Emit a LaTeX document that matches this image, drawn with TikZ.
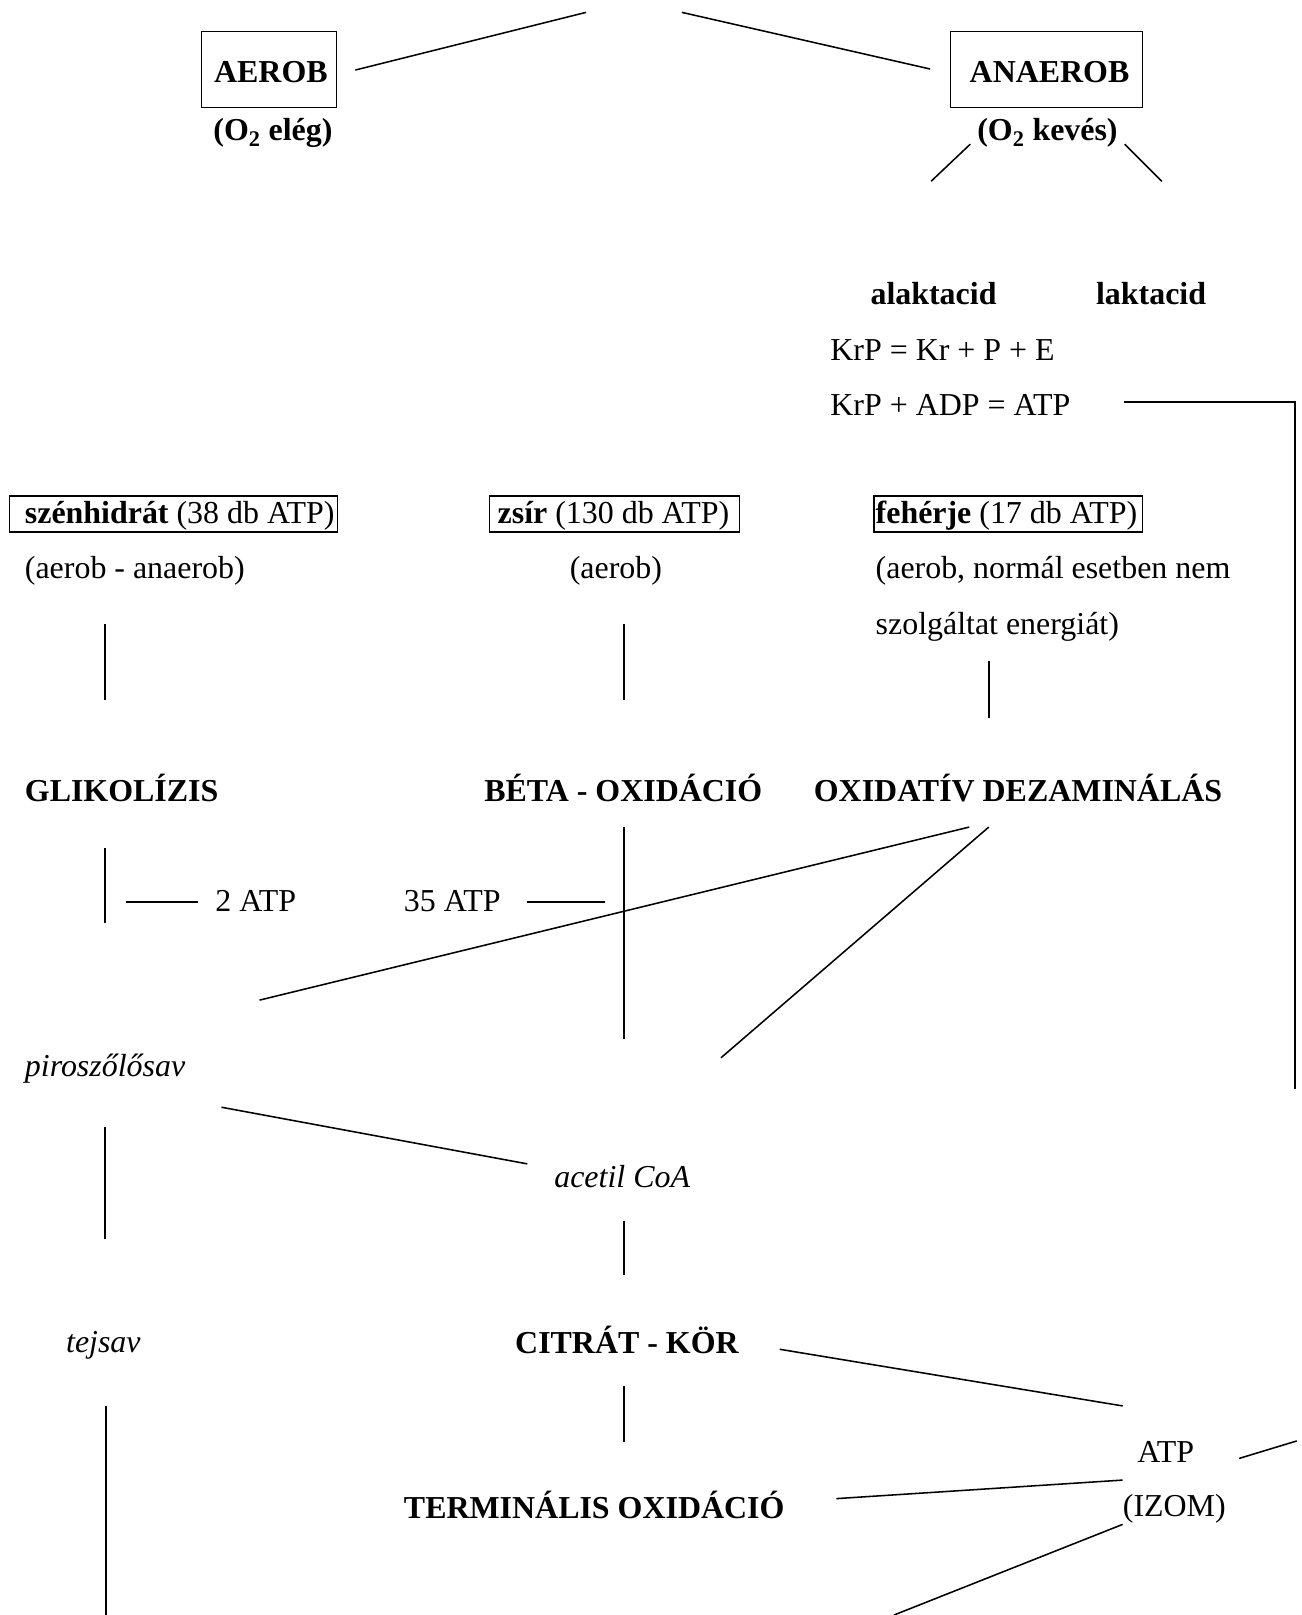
\documentclass[tikz,border=0pt]{standalone}
\usepackage{fontspec}
\setmainfont{Liberation Serif}
\newcommand\bodysize{\fontsize{31pt}{37pt}\selectfont}
\begin{document}
\begin{tikzpicture}[x=1pt,y=-1pt,
  txt/.style={inner sep=0pt, anchor=base west, yshift=-2pt, font=\bodysize},
  ctxt/.style={inner sep=0pt, anchor=base, yshift=-2pt, font=\bodysize},
  bf/.style={font=\bodysize\bfseries},
  it/.style={font=\bodysize\itshape},
  frame/.style={draw, line width=1.1pt, inner sep=0pt, anchor=north west},
  link/.style={line width=1.5pt},
  heavy/.style={line width=2.3pt}]
\useasboundingbox (0,0) rectangle (1264,1568);

% --- top level: aerob / anaerob ---
\node[frame, minimum width=131, minimum height=74] (aerobbox) at (195,30) {};
\node[ctxt, bf] (aerob) at (263,78) {AEROB};
\node[ctxt, bf] (aerobsub) at (265,134) {(O\textsubscript{2} elég)};
\node[frame, minimum width=187, minimum height=74] (anaerobbox) at (922,30) {};
\node[ctxt, bf] (anaerob) at (1019,78) {ANAEROB};
\node[ctxt, bf] (anaerobsub) at (1017,134) {(O\textsubscript{2} kevés)};

\coordinate (topL1) at (345,68);  \coordinate (topL2) at (569,12);
\coordinate (topR1) at (662,12);  \coordinate (topR2) at (903,67);
\draw[link] (topL1) -- (topL2);
\draw[link] (topR1) -- (topR2);

\coordinate (anL1) at (942,140);  \coordinate (anL2) at (904,176);
\coordinate (anR1) at (1092,140); \coordinate (anR2) at (1128,176);
\draw[link] (anL1) -- (anL2);
\draw[link] (anR1) -- (anR2);

% --- anaerob branches ---
\node[txt, bf] (alak) at (845,294) {alaktacid};
\node[txt, bf] (lak) at (1064,294) {laktacid};
\node[txt] (krp1) at (806,348) {KrP = Kr + P + E};
\node[txt] (krp2) at (806,401) {KrP + ADP = ATP};

\coordinate (krpA) at (1091,390);
\coordinate (krpB) at (1257,390);
\coordinate (krpC) at (1257,1057);
\draw[heavy] (krpA) -- (krpB) -- (krpC);

% --- nutrients ---
\node[frame, minimum width=318, minimum height=35] (szhbox) at (9,481) {};
\node[txt] (szh) at (24,506) {\textbf{szénhidrát} (38 db ATP)};
\node[txt] (szhsub) at (24,560) {(aerob - anaerob)};

\node[frame, minimum width=242, minimum height=35] (zsirbox) at (475,481) {};
\node[txt] (zsir) at (483,506) {\textbf{zsír} (130 db ATP)};
\node[ctxt] (zsirsub) at (598,560) {(aerob)};

\node[frame, minimum width=261, minimum height=35] (fehbox) at (848,481) {};
\node[txt] (feh) at (850,506) {\textbf{fehérje} (17 db ATP)};
\node[txt] (fehsub1) at (850,560) {(aerob, normál esetben nem};
\node[txt] (fehsub2) at (850,614) {szolgáltat energiát)};

\coordinate (v1a) at (102,606); \coordinate (v1b) at (102,680);
\coordinate (v2a) at (606,606); \coordinate (v2b) at (606,680);
\coordinate (v3a) at (960,642); \coordinate (v3b) at (960,697);
\draw[link] (v1a) -- (v1b);
\draw[link] (v2a) -- (v2b);
\draw[link] (v3a) -- (v3b);

% --- breakdown pathways ---
\node[txt, bf] (glik) at (24,776) {GLIKOLÍZIS};
\node[txt, bf] (beta) at (470,776) {BÉTA - OXIDÁCIÓ};
\node[txt, bf] (dez) at (790,776) {OXIDATÍV DEZAMINÁLÁS};

\coordinate (g1) at (102,823);  \coordinate (g2) at (102,896);
\draw[link] (g1) -- (g2);
\coordinate (atp2a) at (122,876); \coordinate (atp2b) at (192,876);
\draw[link] (atp2a) -- (atp2b);
\node[txt] (atp2) at (209,883) {2 ATP};
\node[txt] (atp35) at (392,883) {35 ATP};
\coordinate (atp35a) at (512,876); \coordinate (atp35b) at (587,876);
\draw[link] (atp35a) -- (atp35b);

\coordinate (b1) at (606,803);  \coordinate (b2) at (606,1009);
\draw[link] (b1) -- (b2);
\coordinate (d1) at (941,803);  \coordinate (d2) at (252,971);
\draw[link] (d1) -- (d2);
\coordinate (d3) at (960,803);  \coordinate (d4) at (700,1027);
\draw[link] (d3) -- (d4);

% --- intermediates ---
\node[txt, it] (piro) at (24,1043) {piroszőlősav};
\node[txt, it] (acetil) at (538,1151) {acetil CoA};
\coordinate (pa1) at (215,1075); \coordinate (pa2) at (512,1130);
\draw[link] (pa1) -- (pa2);
\coordinate (p1) at (102,1094); \coordinate (p2) at (102,1203);
\draw[link] (p1) -- (p2);
\coordinate (a1) at (606,1185); \coordinate (a2) at (606,1238);
\draw[link] (a1) -- (a2);

\node[txt, it] (tej) at (64,1311) {tejsav};
\node[txt, bf] (citrat) at (500,1312) {CITRÁT - KÖR};
\coordinate (t1) at (103,1365); \coordinate (t2) at (103,1568);
\draw[heavy] (t1) -- (t2);
\coordinate (c1) at (606,1346); \coordinate (c2) at (606,1400);
\draw[link] (c1) -- (c2);

\node[txt, bf] (term) at (392,1472) {TERMINÁLIS OXIDÁCIÓ};
\node[txt] (atpizom) at (1104,1418) {ATP};
\node[txt] (izom) at (1090,1470) {(IZOM)};

\coordinate (ci1) at (757,1310); \coordinate (ci2) at (1090,1365);
\draw[link] (ci1) -- (ci2);
\coordinate (te1) at (812,1455); \coordinate (te2) at (1090,1437);
\draw[link] (te1) -- (te2);
\coordinate (iz1) at (1090,1480); \coordinate (iz2) at (868,1568);
\draw[link] (iz1) -- (iz2);
\coordinate (ar1) at (1203,1416); \coordinate (ar2) at (1259,1399);
\draw[link] (ar1) -- (ar2);
\end{tikzpicture}
\end{document}
